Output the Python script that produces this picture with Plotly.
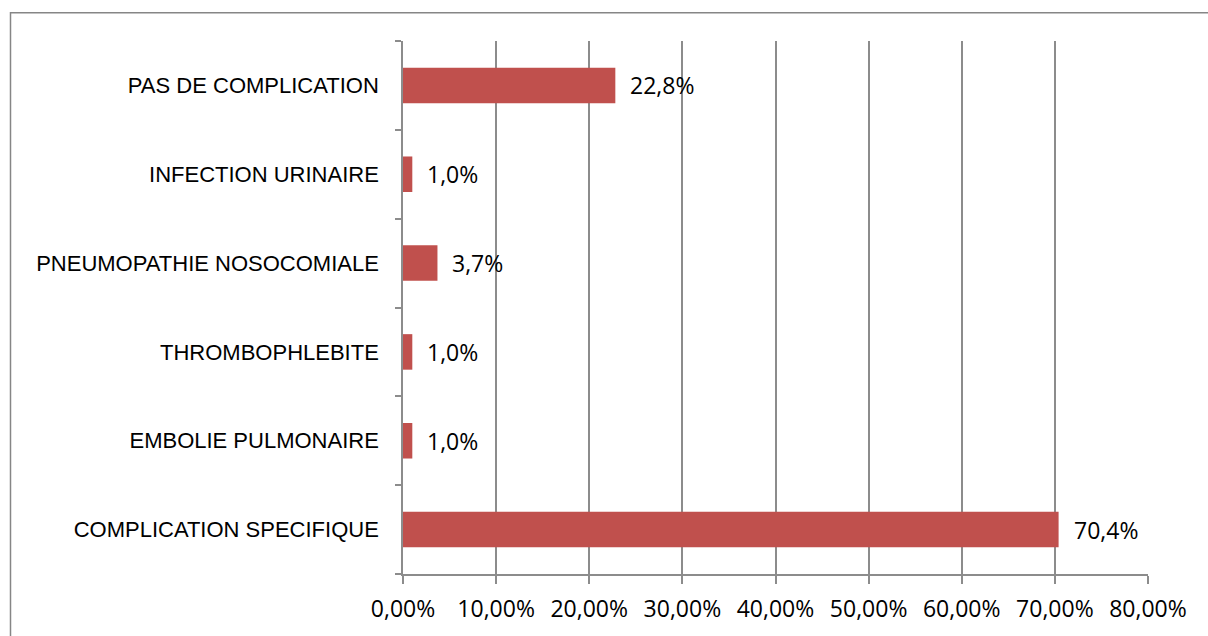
import plotly.graph_objects as go

# Complications, listed bottom to top as drawn
categories = [
    "COMPLICATION SPECIFIQUE",
    "EMBOLIE PULMONAIRE",
    "THROMBOPHLEBITE",
    "PNEUMOPATHIE NOSOCOMIALE",
    "INFECTION URINAIRE",
    "PAS DE COMPLICATION",
]
values = [0.704, 0.010, 0.010, 0.037, 0.010, 0.228]
value_labels = ["70,4%", "1,0%", "1,0%", "3,7%", "1,0%", "22,8%"]

BAR_COLOR = "#C0504D"
GRID_COLOR = "#8C8C8C"
LABEL_FONT = "Liberation Sans, Arial"
NUM_FONT = "Open Sans, Noto Sans, Arial"

fig = go.Figure(
    go.Bar(
        x=values,
        y=categories,
        orientation="h",
        marker=dict(color=BAR_COLOR, line=dict(width=0)),
        width=0.4,
        hoverinfo="skip",
    )
)

# value labels to the right of each bar
for v, c, t in zip(values, categories, value_labels):
    fig.add_annotation(
        x=v, y=c, text=t, showarrow=False,
        xanchor="left", yanchor="middle", xshift=13,
        font=dict(family=NUM_FONT, size=23, color="#000000"),
    )

# outer chart frame
fig.add_shape(
    type="rect", xref="paper", yref="paper",
    x0=(10.5 - 403) / 745, x1=1.2, y0=-0.3, y1=(578 - 12.5) / 537,
    line=dict(color="#868686", width=1.5), fillcolor="rgba(0,0,0,0)",
    layer="below",
)

fig.update_layout(
    width=1208,
    height=636,
    margin=dict(l=403, r=60, t=41, b=58),
    paper_bgcolor="white",
    plot_bgcolor="white",
    separators=", ",
    showlegend=False,
    bargap=0.6,
    xaxis=dict(
        range=[0, 0.8],
        dtick=0.1,
        tickformat=".2%",
        showgrid=True,
        gridcolor=GRID_COLOR,
        gridwidth=1.5,
        zeroline=False,
        showline=True,
        linecolor=GRID_COLOR,
        linewidth=1.5,
        ticks="outside",
        ticklen=8,
        tickwidth=1.5,
        tickcolor=GRID_COLOR,
        ticklabelstandoff=6,
        tickfont=dict(family=NUM_FONT, size=23, color="#000000"),
        fixedrange=True,
    ),
    yaxis=dict(
        categoryorder="array",
        categoryarray=categories,
        showgrid=False,
        zeroline=False,
        showline=True,
        linecolor=GRID_COLOR,
        linewidth=1.5,
        ticks="outside",
        tickson="boundaries",
        ticklen=6,
        tickwidth=1.5,
        tickcolor=GRID_COLOR,
        ticklabelstandoff=18,
        tickfont=dict(family=LABEL_FONT, size=22, color="#000000"),
        fixedrange=True,
    ),
)

fig.write_html("out.html")
